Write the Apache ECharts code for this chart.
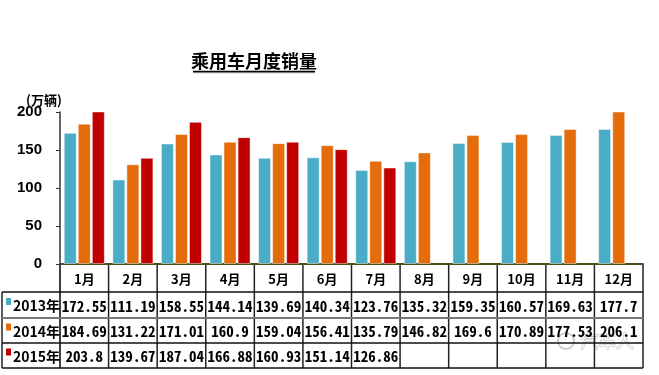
<!DOCTYPE html>
<html><head><meta charset="utf-8">
<script src="https://cdn.jsdelivr.net/npm/echarts@6/dist/echarts.min.js"></script>
<style>html,body{margin:0;padding:0;background:#fff}#c{width:659px;height:375px}</style>
</head><body><div id="c"></div>
<script>
var months = ['1月','2月','3月','4月','5月','6月','7月','8月','9月','10月','11月','12月'];
var seriesNames = ['2013年','2014年','2015年'];
var s2013 = [172.55,111.19,158.55,144.14,139.69,140.34,123.76,135.32,159.35,160.57,169.63,177.7];
var s2014 = [184.69,131.22,171.01,160.9,159.04,156.41,135.79,146.82,169.6,170.89,177.53,206.1];
var s2015 = [203.8,139.67,187.04,166.88,160.93,151.14,126.86];
var colors = ['#4BACC6','#E46C0A','#C00000'];
var yTicks = [0,50,100,150,200];
var title = '乘用车月度销量';
var unit = '(万辆)';

var cjk = '"Noto Sans CJK SC", sans-serif';
var mono = '"Noto Sans Mono CJK SC", "DejaVu Sans Mono", monospace';
var chart = echarts.init(document.getElementById('c'));
var allData = [s2013, s2014, s2015];
chart.setOption({
  animation: false,
  grid: {left: 60, right: 16, top: 112, bottom: 111},
  xAxis: {type: 'category', data: months,
    axisLine: {lineStyle: {color: '#4d4d1a', width: 2}},
    axisTick: {show: false}, axisLabel: {show: false}},
  yAxis: {type: 'value', min: yTicks[0], max: yTicks[yTicks.length-1], interval: 50,
    splitLine: {show: false},
    axisLine: {show: true, lineStyle: {color: '#333', width: 1.5}},
    axisTick: {show: true, length: 4, lineStyle: {color: '#333'}},
    axisLabel: {color: '#000', fontWeight: 'bold', fontSize: 15, fontFamily: '"Liberation Sans", Arial', margin: 18}},
  series: allData.map(function (d, i) {
    return {type: 'bar', name: seriesNames[i], data: d, barWidth: 13, barGap: '8%',
      itemStyle: {color: colors[i], borderColor: 'rgba(255,255,255,0.45)', borderWidth: 1}};
  })
});

function cx(i) { return chart.convertToPixel({xAxisIndex: 0}, i); }
var centers = months.map(function (m, i) { return cx(i); });
var cw = centers[1] - centers[0];
var bounds = centers.map(function (c) { return c - cw / 2; });
bounds.push(centers[centers.length - 1] + cw / 2);
var y0 = chart.convertToPixel({yAxisIndex: 0}, 0);
var rowH = [28, 26, 25, 25];
var rowY = [y0];
for (var r = 0; r < rowH.length; r++) rowY.push(rowY[r] + rowH[r]);
var leftX = 2;
var els = [];
// watermark (drawn first so table text sits on top)
els.push({type: 'text', x: 607, y: 341, style: {text: '汽车人', align: 'center', verticalAlign: 'middle', fill: 'rgba(255,255,255,0.9)',
  stroke: 'rgba(140,140,140,0.6)', lineWidth: 1, font: '18px ' + cjk}});
els.push({type: 'circle', shape: {cx: 566, cy: 341, r: 8}, style: {fill: 'none', stroke: 'rgba(150,150,150,0.6)', lineWidth: 1.5}});
// vertical lines
bounds.forEach(function (b, i) {
  els.push({type: 'line', shape: {x1: b, y1: y0, x2: b, y2: rowY[4]}, style: {stroke: (i === 0 ? '#000' : '#222'), lineWidth: 1.5}});
});
els.push({type: 'line', shape: {x1: leftX, y1: rowY[1], x2: leftX, y2: rowY[4]}, style: {stroke: '#222', lineWidth: 1.5}});
// horizontal lines
for (var r = 1; r <= 4; r++) {
  els.push({type: 'line', shape: {x1: leftX, y1: rowY[r], x2: bounds[bounds.length - 1], y2: rowY[r]},
    style: {stroke: r === 2 ? '#777' : '#111', lineWidth: r === 2 ? 2 : 1.5}});
}
// header
months.forEach(function (m, i) {
  els.push({type: 'text', x: centers[i], y: (rowY[0] + rowY[1]) / 2 + 1,
    style: {text: m, align: 'center', verticalAlign: 'middle', fill: '#000', font: 'bold 13px ' + cjk}});
});
// rows
allData.forEach(function (d, s) {
  var yc = (rowY[s + 1] + rowY[s + 2]) / 2 + 1;
  els.push({type: 'rect', shape: {x: 6, y: yc - 8, width: 5, height: 7}, style: {fill: colors[s]}});
  els.push({type: 'text', x: 13, y: yc, style: {text: seriesNames[s], align: 'left', verticalAlign: 'middle', fill: '#000', font: 'bold 14px ' + cjk}});
  d.forEach(function (v, i) {
    els.push({type: 'text', x: centers[i], y: yc,
      style: {text: String(v), align: 'center', verticalAlign: 'middle', fill: '#000', font: 'bold 15px ' + mono}});
  });
});
// title
els.push({type: 'text', x: 254, y: 61, style: {text: title, align: 'center', verticalAlign: 'middle', fill: '#000',
  font: 'bold 18px ' + cjk, shadowColor: 'rgba(0,0,0,0.35)', shadowOffsetX: 1, shadowOffsetY: 1, shadowBlur: 1}});
els.push({type: 'line', shape: {x1: 193, y1: 71.5, x2: 315, y2: 71.5}, style: {stroke: '#000', lineWidth: 1.5, shadowColor: 'rgba(0,0,0,0.35)', shadowOffsetY: 1}});
// unit
els.push({type: 'text', x: 44, y: 100, style: {text: unit, align: 'center', verticalAlign: 'middle', fill: '#000', font: 'bold 13px ' + cjk}});
chart.setOption({graphic: {elements: els}});
</script></body></html>
